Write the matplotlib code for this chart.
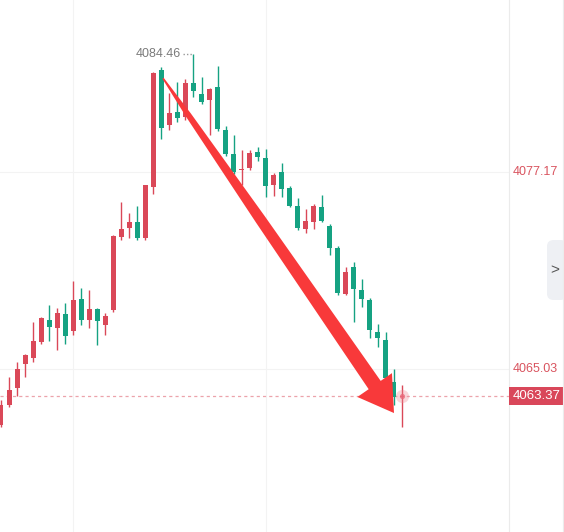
import matplotlib.pyplot as plt
import matplotlib.transforms as mtransforms
from matplotlib.patches import Polygon, Rectangle, FancyBboxPatch
import numpy as np

plt.rcParams['font.family'] = ['Liberation Sans', 'DejaVu Sans']

# K线数据 (开, 高, 低, 收)
opens = [4061.58, 4062.81, 4063.86, 4065.34, 4065.71, 4066.70, 4068.05, 4067.56, 4068.42, 4067.37,
         4069.35, 4068.05, 4068.73, 4067.74, 4068.67, 4073.17, 4073.72, 4074.09, 4073.10, 4076.25,
         4083.45, 4080.07, 4080.87, 4080.56, 4082.65, 4081.98, 4081.61, 4082.41, 4079.76, 4078.28,
         4077.29, 4077.42, 4078.40, 4078.03, 4076.37, 4077.17, 4076.18, 4075.08, 4073.66, 4074.09,
         4075.01, 4073.84, 4072.49, 4069.65, 4071.32, 4069.90, 4069.28, 4067.31, 4066.82, 4064.23,
         4063.30]
highs = [4063.12, 4064.54, 4065.46, 4065.96, 4067.93, 4068.24, 4068.98, 4068.79, 4069.10, 4070.45,
         4070.02, 4069.90, 4068.80, 4068.48, 4073.30, 4075.32, 4074.64, 4075.08, 4076.40, 4083.33,
         4083.64, 4082.04, 4082.72, 4082.90, 4084.46, 4083.02, 4082.34, 4083.70, 4080.00, 4079.45,
         4078.53, 4078.53, 4078.71, 4078.59, 4077.11, 4077.72, 4076.31, 4075.57, 4074.89, 4075.20,
         4075.75, 4073.97, 4072.61, 4071.32, 4071.63, 4070.58, 4069.41, 4067.81, 4067.31, 4065.03,
         4064.05]
lows = [4061.46, 4062.69, 4063.37, 4064.54, 4065.46, 4066.57, 4066.76, 4066.20, 4066.57, 4067.13,
        4067.74, 4067.56, 4066.51, 4067.13, 4068.54, 4072.98, 4073.10, 4072.98, 4072.98, 4075.82,
        4079.20, 4079.76, 4080.25, 4080.37, 4081.79, 4081.36, 4079.45, 4079.70, 4078.16, 4077.05,
        4076.37, 4077.29, 4077.85, 4075.63, 4075.69, 4075.63, 4075.01, 4073.60, 4073.41, 4073.66,
        4074.09, 4072.06, 4069.59, 4069.59, 4067.93, 4068.85, 4066.94, 4066.39, 4064.23, 4062.81,
        4061.46]
closes = [4062.81, 4063.74, 4065.03, 4065.90, 4066.76, 4068.17, 4067.62, 4068.48, 4067.07, 4069.28,
          4068.05, 4068.73, 4067.99, 4068.30, 4073.23, 4073.66, 4074.09, 4073.10, 4076.37, 4083.27,
          4079.88, 4080.81, 4080.50, 4082.65, 4082.16, 4081.48, 4082.28, 4079.82, 4078.28, 4077.17,
          4077.36, 4078.34, 4078.09, 4076.31, 4076.99, 4076.12, 4075.08, 4073.72, 4074.15, 4075.08,
          4074.15, 4072.49, 4069.72, 4071.01, 4069.96, 4069.35, 4067.44, 4066.94, 4064.48, 4063.31,
          4063.37]

axis_labels = [4077.17, 4065.03]
peak_price = 4084.46
peak_idx = 24
last_price = 4063.37

up_color = '#DA4858'
down_color = '#15A282'

fig = plt.figure(figsize=(5.64, 5.32), dpi=100)
ax = fig.add_axes([0, 0, 509 / 564, 1])

x = np.arange(len(opens))
o = np.array(opens)
c = np.array(closes)
colors = [up_color if cc >= oo else down_color for oo, cc in zip(o, c)]

# 网格
for p in axis_labels:
    ax.axhline(p, color='#f3f3f3', lw=0.8, zorder=0)
for gx in [9, 33]:
    ax.axvline(gx, color='#f3f3f3', lw=0.8, zorder=0)

# 影线 + 实体
ax.vlines(x, lows, highs, colors=colors, lw=1, zorder=2)
bottom = np.minimum(o, c)
height = np.maximum(np.abs(c - o), 0.07)
ax.bar(x, height, bottom=bottom, width=0.62, color=colors, zorder=3)

ax.set_xlim(-0.125, 63.34)
ax.set_ylim(4054.99, 4087.77)
ax.set_xticks([])
ax.set_yticks([])
for s in ['top', 'left', 'bottom']:
    ax.spines[s].set_visible(False)
ax.spines['right'].set_color('#ebebeb')
ax.spines['right'].set_linewidth(0.8)

# 最高价标注
ax.hlines(peak_price, peak_idx - 1.3, peak_idx, colors='#999999', lw=1, linestyles=(0, (1, 1.5)), zorder=4)
ax.text(peak_idx - 1.6, peak_price, f'{peak_price:.2f}', color='#7b7b7b', fontsize=9,
        ha='right', va='center')

# 现价线
ax.axhline(last_price, color='#eca3ab', lw=0.9, ls=(0, (2.5, 2.5)), zorder=1)
ax.scatter([x[-1]], [last_price], s=90, color='#f08a96', alpha=0.35, zorder=5, lw=0)
ax.scatter([x[-1]], [last_price], s=14, color='#e8697a', alpha=0.8, zorder=5, lw=0)

# 右侧价格轴
blend = mtransforms.blended_transform_factory(ax.transAxes, ax.transData)
for p in axis_labels:
    ax.text(1.008, p, f'{p:.2f}', transform=blend, color='#d9545f', fontsize=9,
            ha='left', va='center', clip_on=False)
ax.add_patch(Rectangle((1.0, last_price - 0.55), 55 / 509, 1.1, transform=blend,
                       facecolor='#d9475a', edgecolor='none', clip_on=False, zorder=6))
ax.text(1.0 + 27.5 / 509, last_price, f'{last_price:.2f}', transform=blend, color='white',
        fontsize=9.5, ha='center', va='center', clip_on=False, zorder=7)

fig.add_artist(plt.Line2D([563 / 564, 563 / 564], [0, 1], color='#ececec', lw=0.8))
fig.add_artist(FancyBboxPatch((547 / 564, 1 - 300 / 532), 20 / 564, 60 / 532,
                              boxstyle='round,pad=0,rounding_size=0.012',
                              facecolor='#eef0f4', edgecolor='none', transform=fig.transFigure))
fig.text(555 / 564, 1 - 270 / 532, '>', color='#555555', fontsize=11, ha='center', va='center')

# 红色大箭头 (箭身逐渐变粗)
fig.canvas.draw()
p0 = ax.transData.transform((20.2, 4082.95))
p1 = ax.transData.transform((49.0, 4062.32))
d = (p1 - p0) / np.linalg.norm(p1 - p0)
n = np.array([-d[1], d[0]])
head_len = 34
shaft_len = np.linalg.norm(p1 - p0) - head_len
s_frac = [0, 0.12, 0.46, 0.85, 1.0]
w_half = [0.8, 2.9, 5.4, 6.8, 7.3]
left = [p0 + f * shaft_len * d + w * n for f, w in zip(s_frac, w_half)]
right = [p0 + f * shaft_len * d - w * n for f, w in zip(s_frac, w_half)]
base = p0 + shaft_len * d
pts = left + [base + 21 * n, p1, base - 21 * n] + right[::-1]
fig.add_artist(Polygon(pts, closed=True, transform=None, facecolor='#f8393a', edgecolor='none', zorder=10))

fig.savefig('out.png', dpi=100, facecolor='white')
